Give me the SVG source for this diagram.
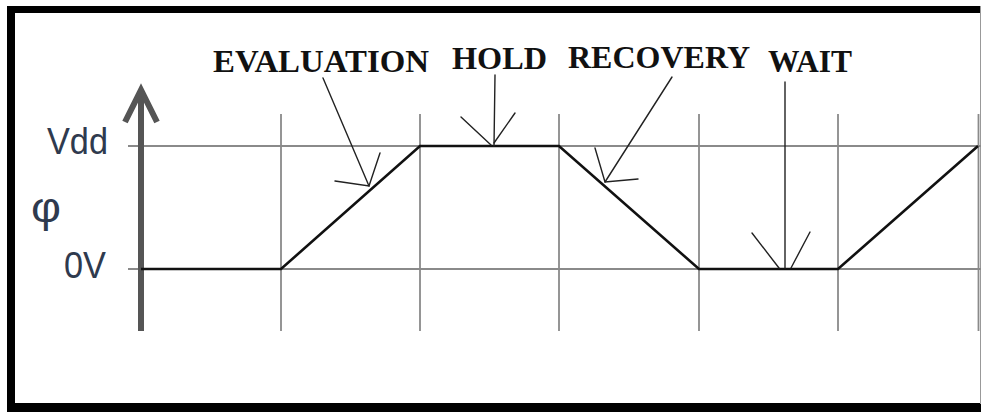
<svg xmlns="http://www.w3.org/2000/svg" width="981" height="414" viewBox="0 0 981 414">
  <style>
    .grid { stroke: #8a8a8a; stroke-width: 1.8; fill: none; }
    .wave { stroke: #111; stroke-width: 2.6; fill: none; stroke-linejoin: miter; }
    .axis { stroke: #555; stroke-width: 6; fill: none; }
    .ann { stroke: #222; stroke-width: 1.4; fill: none; stroke-linecap: round; }
    .title { font-family: "Liberation Serif", "Times New Roman", serif; font-weight: bold; font-size: 32px; fill: #111; }
    .lab { font-family: "Liberation Sans", Arial, sans-serif; fill: #2f3a4e; }
  </style>
  <rect x="0" y="0" width="981" height="414" fill="#fff"/>
  <g id="frame">
    <line x1="7" y1="9.5" x2="981" y2="9.5" stroke="#000" stroke-width="7"/>
    <line x1="11" y1="6" x2="11" y2="412" stroke="#000" stroke-width="8"/>
    <line x1="7" y1="407.5" x2="981" y2="407.5" stroke="#000" stroke-width="9"/>
    <line x1="980.5" y1="6" x2="980.5" y2="404" stroke="#999" stroke-width="1"/>
  </g>
  <g id="grid">
    <line class="grid" x1="128" y1="146" x2="981" y2="146"/>
    <line class="grid" x1="128" y1="269" x2="981" y2="269"/>
    <line class="grid" x1="281" y1="114" x2="281" y2="331"/>
    <line class="grid" x1="420" y1="114" x2="420" y2="331"/>
    <line class="grid" x1="559" y1="114" x2="559" y2="331"/>
    <line class="grid" x1="699" y1="114" x2="699" y2="331"/>
    <line class="grid" x1="838" y1="114" x2="838" y2="331"/>
    <line class="grid" x1="978.5" y1="114" x2="978.5" y2="331" stroke-width="2.6"/>
  </g>
  <g id="axis">
    <line class="axis" x1="141" y1="92" x2="141" y2="331"/>
    <polyline class="axis" points="125,122 141,90 157,122" stroke-linejoin="miter"/>
  </g>
  <g id="waveform">
    <polyline class="wave" points="141,269 281,269 420,146 559,146 699,269 838,269 978,146"/>
  </g>
  <g id="label-vdd"><text class="lab" x="47" y="154" font-size="37" textLength="61" lengthAdjust="spacingAndGlyphs">Vdd</text></g>
  <g id="label-phi"><text class="lab" x="31" y="222" font-size="42" textLength="30" lengthAdjust="spacingAndGlyphs" fill="#1f2a3a">φ</text></g>
  <g id="label-0v"><text class="lab" x="64" y="278" font-size="36" textLength="42" lengthAdjust="spacingAndGlyphs">0V</text></g>
  <g id="evaluation"><text class="title" x="213" y="72" textLength="216" lengthAdjust="spacingAndGlyphs">EVALUATION</text></g>
  <g id="hold"><text class="title" x="452" y="69" textLength="95" lengthAdjust="spacingAndGlyphs">HOLD</text></g>
  <g id="recovery"><text class="title" x="568" y="68" textLength="182" lengthAdjust="spacingAndGlyphs">RECOVERY</text></g>
  <g id="wait"><text class="title" x="768" y="72" textLength="84" lengthAdjust="spacingAndGlyphs">WAIT</text></g>
  <g id="connectors">
    <line class="ann" x1="323" y1="78" x2="369" y2="186"/>
    <polyline class="ann" points="335,181 369,186 380,153"/>
    <line class="ann" x1="495" y1="75" x2="494" y2="146"/>
    <polyline class="ann" points="461,117 491,145"/>
    <polyline class="ann" points="515,113 494,143"/>
    <line class="ann" x1="672" y1="77" x2="605" y2="182"/>
    <polyline class="ann" points="595,148 605,182 638,179"/>
    <line class="ann" x1="785" y1="82" x2="785" y2="268"/>
    <polyline class="ann" points="752,233 779,268"/>
    <polyline class="ann" points="810,232 791,268"/>
  </g>
</svg>
